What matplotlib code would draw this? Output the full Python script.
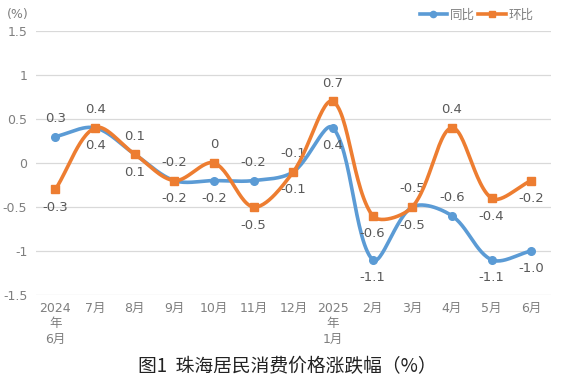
import numpy as np
import matplotlib
matplotlib.use("Agg")
import matplotlib.pyplot as plt
from matplotlib.lines import Line2D

plt.rcParams['font.family'] = ['DejaVu Sans', 'Noto Sans CJK SC']

# data
months = ['2024\n年\n6月', '7月', '8月', '9月', '10月', '11月', '12月',
          '2025\n年\n1月', '2月', '3月', '4月', '5月', '6月']
tongbi = [0.3, 0.4, 0.1, -0.2, -0.2, -0.2, -0.1, 0.4, -1.1, -0.5, -0.6, -1.1, -1.0]
huanbi = [-0.3, 0.4, 0.1, -0.2, 0.0, -0.5, -0.1, 0.7, -0.6, -0.5, 0.4, -0.4, -0.2]
# label side: 1 above, -1 below
tongbi_pos = [1, -1, -1, -1, -1, 1, -1, -1, -1, -1, 1, -1, -1]
huanbi_pos = [-1, 1, 1, 1, 1, -1, 1, 1, -1, 1, 1, -1, -1]

BLUE = '#5B9BD5'
ORANGE = '#ED7D31'
GRAY = '#7F7F7F'
TXT = '#595959'

# pixel size of one unit, used so the smoothing works in screen space
XPX, YPX = 39.4, 88.0


def smooth(x, y, n=30):
    # bezier smoothing, handles weighted by neighbouring segment lengths
    p = np.column_stack([np.asarray(x, float) * XPX, np.asarray(y, float) * YPX])
    m = len(p)
    d = np.linalg.norm(np.diff(p, axis=0), axis=1)
    t = np.linspace(0, 1, n)
    out = []
    for i in range(m - 1):
        a, b = p[i], p[i + 1]
        if i > 0:
            tan = p[i + 1] - p[i - 1]
            c1 = a + tan * d[i] / (d[i - 1] + d[i]) / 3
        else:
            c1 = a + (b - a) / 3
        if i + 2 < m:
            tan = p[i + 2] - p[i]
            c2 = b - tan * d[i] / (d[i] + d[i + 1]) / 3
        else:
            c2 = b - (b - a) / 3
        seg = ((1 - t) ** 3)[:, None] * a + (3 * (1 - t) ** 2 * t)[:, None] * c1 \
            + (3 * (1 - t) * t ** 2)[:, None] * c2 + (t ** 3)[:, None] * b
        out.append(seg)
    out = np.vstack(out)
    return out[:, 0] / XPX, out[:, 1] / YPX


fig = plt.figure(figsize=(5.74, 3.84), dpi=100)
ax = fig.add_axes([0.062, 0.232, 0.898, 0.687])

x = np.arange(len(months))
for v in np.arange(-1.5, 1.51, 0.5):
    ax.axhline(v, color='#D9D9D9', lw=0.9, zorder=0)

sx, sy = smooth(x, tongbi)
ax.plot(sx, sy, color=BLUE, lw=2.6, solid_capstyle='round', zorder=2)
ax.plot(x, tongbi, 'o', color=BLUE, ms=5.5, zorder=3)
sx, sy = smooth(x, huanbi)
ax.plot(sx, sy, color=ORANGE, lw=2.6, solid_capstyle='round', zorder=4)
ax.plot(x, huanbi, 's', color=ORANGE, ms=5.5, zorder=5)


def fmt(v):
    return '0' if v == 0 else f'{v:.1f}'


for xi, v, p in zip(x, tongbi, tongbi_pos):
    ax.annotate(fmt(v), (xi, v), xytext=(0, 13 * p), textcoords='offset points',
                ha='center', va='center', fontsize=9.5, color=TXT)
for xi, v, p in zip(x, huanbi, huanbi_pos):
    ax.annotate(fmt(v), (xi, v), xytext=(0, 13 * p), textcoords='offset points',
                ha='center', va='center', fontsize=9.5, color=TXT)

ax.set_xlim(-0.5, len(months) - 0.5)
ax.set_ylim(-1.5, 1.5)
ax.set_yticks([-1.5, -1, -0.5, 0, 0.5, 1, 1.5])
ax.set_yticklabels(['-1.5', '-1', '-0.5', '0', '0.5', '1', '1.5'])
ax.set_xticks(x)
ax.set_xticklabels(months, linespacing=1.25)
ax.tick_params(axis='both', length=0, labelsize=9, labelcolor=GRAY)
ax.tick_params(axis='x', pad=5)
ax.tick_params(axis='y', pad=6)
for s in ax.spines.values():
    s.set_visible(False)

fig.text(0.012, 0.962, '(%)', fontsize=9, color=GRAY, va='center')

handles = [Line2D([], [], color=BLUE, lw=2.6, marker='o', ms=4.5),
           Line2D([], [], color=ORANGE, lw=2.6, marker='s', ms=4.5)]
fig.legend(handles, ['同比', '环比'], loc='center', bbox_to_anchor=(0.83, 0.96),
           ncol=2, frameon=False, fontsize=9, labelcolor=GRAY,
           handlelength=2.2, handletextpad=0.2, columnspacing=0.3)

fig.text(0.5, 0.045, '图1  珠海居民消费价格涨跌幅（%）', ha='center', va='center',
         fontsize=13.5, color='#222222', family=['Noto Sans CJK SC'])

fig.savefig('out.png', dpi=100)
